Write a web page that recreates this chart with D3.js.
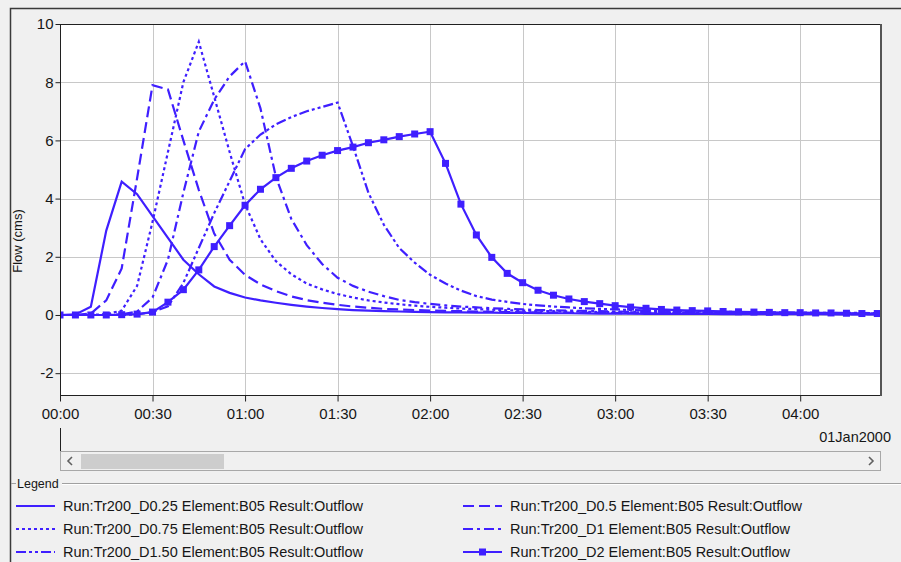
<!DOCTYPE html>
<html>
<head>
<meta charset="utf-8">
<script src="https://cdn.jsdelivr.net/npm/d3@7"></script>
<style>
  html, body { margin: 0; padding: 0; background: #f0f0f0; }
  svg { display: block; font-family: "Liberation Sans", Arial, sans-serif; }
</style>
</head>
<body>
<svg id="chart" width="901" height="562"></svg>
<script>
// time steps (minutes after 01Jan2000 00:00), 5-minute interval
const minutes = d3.range(0, 270, 5);

// Outflow (cms) per run
const d025 = [0, 0.02, 0.28, 2.9, 4.58, 4.15, 3.4, 2.65, 1.9, 1.4, 0.98, 0.76, 0.6, 0.5, 0.42, 0.35, 0.29, 0.24, 0.2, 0.17,
  0.15, 0.13, 0.12, 0.11, 0.1, 0.09, 0.09, 0.08, 0.08, 0.07, 0.07, 0.06, 0.06, 0.06, 0.05, 0.05, 0.05, 0.05, 0.04, 0.04,
  0.04, 0.04, 0.04, 0.03, 0.03, 0.03, 0.03, 0.03, 0.03, 0.03, 0.03, 0.02, 0.02, 0.02];
const d05 = [0, 0, 0.05, 0.5, 1.6, 4.7, 7.9, 7.75, 6.0, 4.3, 2.8, 1.9, 1.38, 1.05, 0.82, 0.64, 0.51, 0.42, 0.35, 0.29,
  0.25, 0.21, 0.19, 0.17, 0.15, 0.14, 0.13, 0.12, 0.11, 0.1, 0.09, 0.09, 0.08, 0.08, 0.07, 0.07, 0.07, 0.06, 0.06, 0.06,
  0.05, 0.05, 0.05, 0.05, 0.04, 0.04, 0.04, 0.04, 0.04, 0.04, 0.03, 0.03, 0.03, 0.03];
const d075 = [0, 0, 0, 0.03, 0.15, 1.0, 3.2, 5.6, 8.0, 9.39, 7.5, 5.6, 3.8, 2.6, 1.85, 1.4, 1.08, 0.88, 0.72, 0.6,
  0.5, 0.43, 0.37, 0.32, 0.28, 0.25, 0.22, 0.2, 0.18, 0.16, 0.15, 0.14, 0.13, 0.12, 0.11, 0.1, 0.1, 0.09, 0.09, 0.08,
  0.08, 0.07, 0.07, 0.07, 0.06, 0.06, 0.06, 0.05, 0.05, 0.05, 0.05, 0.05, 0.04, 0.04];
const d1 = [0, 0, 0, 0, 0.02, 0.12, 0.6, 1.9, 4.2, 6.3, 7.4, 8.2, 8.72, 7.1, 4.75, 3.3, 2.4, 1.75, 1.28, 1.0,
  0.8, 0.65, 0.52, 0.44, 0.38, 0.33, 0.29, 0.26, 0.23, 0.21, 0.19, 0.17, 0.16, 0.15, 0.14, 0.13, 0.12, 0.11, 0.1, 0.1,
  0.09, 0.09, 0.08, 0.08, 0.07, 0.07, 0.07, 0.06, 0.06, 0.06, 0.06, 0.05, 0.05, 0.05];
const d150 = [0, 0, 0, 0, 0, 0.02, 0.1, 0.3, 1.1, 2.3, 3.5, 4.6, 5.7, 6.2, 6.55, 6.8, 7.0, 7.15, 7.3, 5.8,
  4.2, 3.1, 2.3, 1.8, 1.38, 1.08, 0.84, 0.65, 0.53, 0.45, 0.38, 0.33, 0.29, 0.26, 0.23, 0.21, 0.19, 0.17, 0.16, 0.15,
  0.14, 0.13, 0.12, 0.11, 0.1, 0.1, 0.09, 0.09, 0.08, 0.08, 0.07, 0.07, 0.07, 0.06];
const d2 = [0, 0, 0, 0, 0.01, 0.03, 0.1, 0.44, 0.87, 1.55, 2.35, 3.07, 3.77, 4.32, 4.72, 5.04, 5.29, 5.49, 5.65, 5.77,
  5.92, 6.02, 6.13, 6.22, 6.3, 5.21, 3.81, 2.75, 1.98, 1.43, 1.11, 0.85, 0.68, 0.55, 0.46, 0.39, 0.32, 0.27, 0.23, 0.19,
  0.17, 0.15, 0.14, 0.12, 0.11, 0.1, 0.09, 0.08, 0.08, 0.07, 0.07, 0.06, 0.05, 0.05];

const runNames = ['Tr200_D0.25', 'Tr200_D0.5', 'Tr200_D0.75', 'Tr200_D1', 'Tr200_D1.50', 'Tr200_D2'];
const yTicks = [-2, 0, 2, 4, 6, 8, 10];

const lineColor = '#3f1fff';
const seriesList = [
    { name: runNames[0], values: d025, dash: null, markers: false },
    { name: runNames[1], values: d05, dash: '11,5', markers: false },
    { name: runNames[2], values: d075, dash: '3,3', markers: false },
    { name: runNames[3], values: d1, dash: '10,4,3,4', markers: false },
    { name: runNames[4], values: d150, dash: '10,3,3,3,3,3', markers: false },
    { name: runNames[5], values: d2, dash: null, markers: true }
];

const svg = d3.select('#chart');
const plot = { left: 60, right: 881, top: 24, bottom: 395 };
const textColor = '#161616';

const t0 = Date.UTC(2000, 0, 1, 0, 0);
const toDate = m => new Date(t0 + m * 60000);

const x = d3.scaleUtc()
    .domain([toDate(0), toDate(266.2)])
    .range([plot.left, plot.right]);
const y = d3.scaleLinear()
    .domain([-2.75, 10])
    .range([plot.bottom, plot.top]);

// outer frame
svg.append('path')
    .attr('d', 'M10.5,562 V8.5 H901')
    .attr('fill', 'none')
    .attr('stroke', '#3a3a3a')
    .attr('stroke-width', 1.5);

// plot background
svg.append('rect')
    .attr('x', plot.left).attr('y', plot.top)
    .attr('width', plot.right - plot.left).attr('height', plot.bottom - plot.top)
    .attr('fill', '#fff');

const xTickVals = d3.utcMinute.every(30).range(toDate(0), toDate(266.2));

// gridlines
svg.append('g')
    .selectAll('line.vg')
    .data(xTickVals.slice(1))
    .join('line')
    .attr('x1', d => Math.round(x(d)) + 0.5).attr('x2', d => Math.round(x(d)) + 0.5)
    .attr('y1', plot.top).attr('y2', plot.bottom)
    .attr('stroke', '#c8c8c8');
svg.append('g')
    .selectAll('line.hg')
    .data(yTicks)
    .join('line')
    .attr('x1', plot.left).attr('x2', plot.right)
    .attr('y1', d => Math.round(y(d)) + 0.5).attr('y2', d => Math.round(y(d)) + 0.5)
    .attr('stroke', '#c8c8c8');

// series
svg.append('clipPath').attr('id', 'plotclip')
    .append('rect')
    .attr('x', plot.left).attr('y', plot.top)
    .attr('width', plot.right - plot.left).attr('height', plot.bottom - plot.top);

const line = d3.line()
    .x((d, i) => x(toDate(minutes[i])))
    .y(d => y(d));

const seriesG = svg.append('g').attr('clip-path', 'url(#plotclip)');
seriesList.forEach(s => {
    seriesG.append('path')
        .datum(s.values)
        .attr('d', line)
        .attr('fill', 'none')
        .attr('stroke', lineColor)
        .attr('stroke-width', 2.2)
        .attr('stroke-dasharray', s.dash);
    if (s.markers) {
        seriesG.selectAll('rect.mk')
            .data(s.values)
            .join('rect')
            .attr('class', 'mk')
            .attr('x', (d, i) => x(toDate(minutes[i])) - 3.5)
            .attr('y', d => y(d) - 3.5)
            .attr('width', 7).attr('height', 7)
            .attr('fill', lineColor);
    }
});

// frame
svg.append('rect')
    .attr('x', plot.left + 0.5).attr('y', plot.top + 0.5)
    .attr('width', plot.right - plot.left - 1).attr('height', plot.bottom - plot.top)
    .attr('fill', 'none')
    .attr('stroke', '#202020');
svg.append('line')
    .attr('x1', plot.right).attr('x2', plot.right)
    .attr('y1', plot.top).attr('y2', plot.bottom + 1)
    .attr('stroke', '#555').attr('stroke-width', 2);

// axes
const xAxis = svg.append('g')
    .attr('transform', `translate(0,${plot.bottom + 0.5})`)
    .call(d3.axisBottom(x).tickValues(xTickVals).tickFormat(d3.utcFormat('%H:%M')).tickSize(6).tickSizeOuter(0));
const yAxis = svg.append('g')
    .attr('transform', `translate(${plot.left + 0.5},0)`)
    .call(d3.axisLeft(y).tickValues(yTicks).tickFormat(d => String(d)).tickSize(5).tickSizeOuter(0));

[xAxis, yAxis].forEach(a => {
    a.select('.domain').remove();
    a.selectAll('.tick line').attr('stroke', '#202020');
    a.selectAll('.tick text')
        .attr('fill', textColor)
        .style('font-size', '15px')
        .style('font-family', '"Liberation Sans", Arial, sans-serif');
});
xAxis.selectAll('.tick text').attr('dy', '0.71em').attr('y', 13);
yAxis.selectAll('.tick text').attr('x', -7);

svg.append('text')
    .attr('transform', `translate(22,241) rotate(-90)`)
    .attr('text-anchor', 'middle')
    .attr('fill', textColor)
    .style('font-size', '13px')
    .text('Flow (cms)');

svg.append('text')
    .attr('x', 891).attr('y', 442)
    .attr('text-anchor', 'end')
    .attr('fill', textColor)
    .style('font-size', '14.5px')
    .text('01Jan2000');

svg.append('line')
    .attr('x1', 60.5).attr('x2', 60.5)
    .attr('y1', 428).attr('y2', 452)
    .attr('stroke', '#202020');

// scrollbar
svg.append('rect')
    .attr('x', 60.5).attr('y', 451.5).attr('width', 820).attr('height', 19)
    .attr('fill', '#f0f0f0').attr('stroke', '#a8a8a8');
svg.append('rect')
    .attr('x', 81).attr('y', 454).attr('width', 143).attr('height', 15)
    .attr('fill', '#cdcdcd');
svg.append('path')
    .attr('d', 'M72,457 L68,461 L72,465')
    .attr('fill', 'none').attr('stroke', '#606060').attr('stroke-width', 1.6);
svg.append('path')
    .attr('d', 'M869,457 L873,461 L869,465')
    .attr('fill', 'none').attr('stroke', '#606060').attr('stroke-width', 1.6);

// legend group box
svg.append('line').attr('x1', 11).attr('x2', 16).attr('y1', 483.5).attr('y2', 483.5).attr('stroke', '#a0a0a0');
svg.append('line').attr('x1', 62).attr('x2', 901).attr('y1', 483.5).attr('y2', 483.5).attr('stroke', '#a0a0a0');
svg.append('line').attr('x1', 62).attr('x2', 901).attr('y1', 484.5).attr('y2', 484.5).attr('stroke', '#fff');
svg.append('text')
    .attr('x', 17).attr('y', 488)
    .attr('fill', textColor)
    .style('font-size', '12.5px')
    .text('Legend');

const legendPos = [
    { x: 16, y: 506 }, { x: 463, y: 506 },
    { x: 16, y: 529 }, { x: 463, y: 529 },
    { x: 16, y: 552 }, { x: 463, y: 552 }
];
seriesList.forEach((s, i) => {
    const p = legendPos[i];
    const g = svg.append('g').attr('transform', `translate(${p.x},${p.y})`);
    g.append('line')
        .attr('x1', 0).attr('x2', 39).attr('y1', 0).attr('y2', 0)
        .attr('stroke', lineColor).attr('stroke-width', 2)
        .attr('stroke-dasharray', s.dash);
    if (s.markers) {
        g.append('rect').attr('x', 16).attr('y', -3.5).attr('width', 7).attr('height', 7).attr('fill', lineColor);
    }
    g.append('text')
        .attr('x', 47).attr('y', 5)
        .attr('fill', textColor)
        .style('font-size', '14.5px')
        .text(`Run:${s.name} Element:B05 Result:Outflow`);
});
</script>
</body>
</html>
